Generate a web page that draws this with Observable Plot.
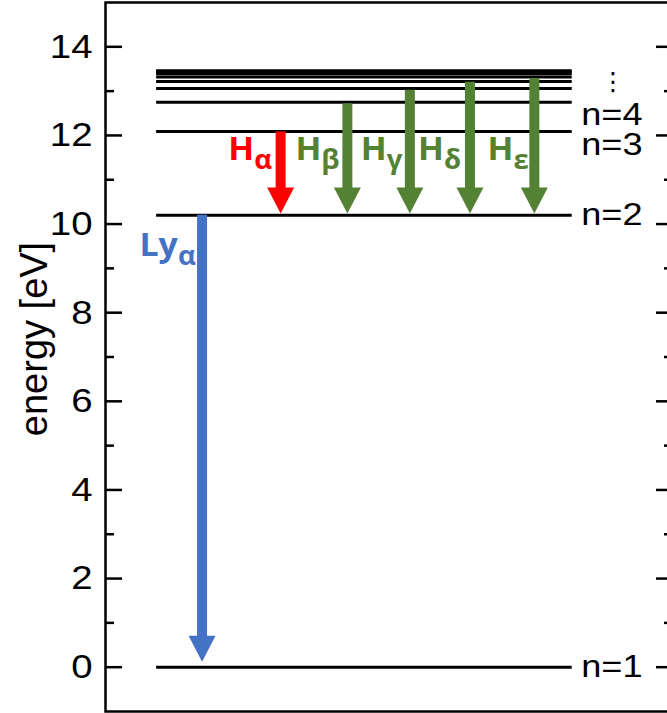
<!DOCTYPE html>
<html><head><meta charset="utf-8">
<script src="https://cdn.jsdelivr.net/npm/d3@7"></script>
<script src="https://cdn.jsdelivr.net/npm/@observablehq/plot@0.6"></script>
<style>html,body{margin:0;padding:0;overflow:hidden;background:#fff}</style>
</head><body><div id="chart"></div>
<script>
// Energy levels of hydrogen (eV)
const levelEnergies = [0, 10.2, 12.09, 12.75, 13.06, 13.22, 13.32, 13.39, 13.43, 13.46];
const levelStart = 1.08;   // x units
const levelEnd = 9.86;
const levelLabels = ["n=1", "n=2", "n=3", "n=4"];
const levelLabelY = [0, 10.2, 11.8, 12.47];
const levelLabelX = 10.05;
const ellipsisText = ["⋮"];
const ellipsisX = 10.72;
const ellipsisY = 13.2;

// Transitions
const lineNames = ["Ly", "H", "H", "H", "H", "H"];
const lineSubs = ["α", "α", "β", "γ", "δ", "ε"];
const upperE = [10.2, 12.08, 12.71, 13.02, 13.2, 13.28];
const lowerE = [0.12, 10.24, 10.24, 10.24, 10.24, 10.24];
const arrowX = [2.04, 3.70, 5.11, 6.43, 7.70, 9.06];
const labelX = [1.53, 3.14, 4.56, 5.94, 7.15, 8.62];
const labelY = [9.29, 11.44, 11.44, 11.44, 11.44, 11.44];
const lineColors = ["#4472c4", "#ff0000", "#548235", "#548235", "#548235", "#548235"];

// Axis
const majorTicks = [0, 2, 4, 6, 8, 10, 12, 14];
const minorTicks = [1, 3, 5, 7, 9, 11, 13];
const yTitle = "energy [eV]";

const transitions = lineNames.map((name, i) => ({
  name, sub: lineSubs[i], upper: upperE[i], lower: lowerE[i],
  x: arrowX[i], lx: labelX[i], ly: labelY[i], color: lineColors[i]
}));
const levelLabelRows = levelLabels.map((t, i) => ({t, y: levelLabelY[i]}));

const arrowHead = {
  draw(ctx) {
    ctx.moveTo(0, 0);
    ctx.lineTo(-13.5, -26);
    ctx.lineTo(13.5, -26);
    ctx.closePath();
  }
};

const W = 667, H = 713, ML = 105, MR = -6;
const innerW = W - ML - MR;

const chart = Plot.plot({
  width: W, height: H,
  marginLeft: ML, marginRight: MR, marginTop: 2, marginBottom: 2,
  x: {domain: [0, 12], axis: null},
  y: {domain: [-1, 15], axis: null},
  color: {type: "identity"},
  style: {fontFamily: "'Liberation Sans', Arial, sans-serif", background: "#fff", color: "#000"},
  marks: [
    // energy levels
    Plot.ruleY(levelEnergies, {y: d => d, x1: () => levelStart, x2: () => levelEnd, stroke: "#000", strokeWidth: 3}),
    // arrow shafts
    Plot.ruleX(transitions, {x: "x", y1: "upper", y2: "lower", stroke: "color", strokeWidth: 10, insetBottom: 20}),
    // arrow heads
    Plot.dot(transitions, {x: "x", y: "lower", symbol: arrowHead, fill: "color"}),
    // transition labels
    Plot.text(transitions, {x: "lx", y: "ly", text: "name", textAnchor: "end", lineAnchor: "bottom",
      fill: "color", fontWeight: "bold", fontSize: 32, fontFamily: "'Open Sans', sans-serif"}),
    Plot.text(transitions, {x: "lx", y: "ly", text: "sub", textAnchor: "start", lineAnchor: "bottom", dy: 9,
      fill: "color", fontWeight: "bold", fontSize: 26, fontFamily: "'Open Sans', sans-serif"}),
    // level labels
    Plot.text(levelLabelRows, {x: () => levelLabelX, y: "y", text: "t", textAnchor: "start", lineAnchor: "middle", fontSize: 32, fill: "#000"}),
    Plot.text(ellipsisText, {x: () => ellipsisX, y: () => ellipsisY, text: d => d, textAnchor: "middle", lineAnchor: "middle", fontSize: 25, fontFamily: "'DejaVu Sans', sans-serif", fill: "#000"}),
    // ticks left (inward)
    Plot.tickY(majorTicks, {y: d => d, stroke: "#000", strokeWidth: 2.5, insetRight: innerW - 17}),
    Plot.tickY(minorTicks, {y: d => d, stroke: "#000", strokeWidth: 2.5, insetRight: innerW - 9}),
    // ticks right (inward)
    Plot.tickY(majorTicks, {y: d => d, stroke: "#000", strokeWidth: 2.5, insetLeft: innerW - 17}),
    Plot.tickY(minorTicks, {y: d => d, stroke: "#000", strokeWidth: 2.5, insetLeft: innerW - 9}),
    // tick labels
    Plot.text(majorTicks, {y: d => d, text: d => String(d), frameAnchor: "left", textAnchor: "end", lineAnchor: "middle", dx: -13, fontSize: 34, fill: "#000"}),
    // y title
    Plot.text([yTitle], {text: d => d, frameAnchor: "left", rotate: -90, dx: -71, dy: -18, textAnchor: "middle", lineAnchor: "middle", fontSize: 38, fill: "#000"}),
    Plot.frame({stroke: "#000", strokeWidth: 2.5})
  ]
});
// slight horizontal widening of glyphs to match the reference's wide lettering
const wideA = new Set([...lineNames, ...lineSubs]);
const wideB = new Set([...levelLabels, ...majorTicks.map(String)]);
chart.querySelectorAll("text").forEach(t => {
  const s = t.textContent;
  const k = wideB.has(s) ? 1.13 : wideA.has(s) ? 1.06 : 0;
  if (!k) return;
  const tr = t.getAttribute("transform") || "";
  if (tr) {
    t.setAttribute("transform", `${tr} scale(${k},1)`);
  } else {
    const x = +t.getAttribute("x") || 0;
    const y = t.getAttribute("y");
    t.setAttribute("transform", `translate(${x},0) scale(${k},1)`);
    t.setAttribute("x", 0);
  }
});
document.getElementById("chart").appendChild(chart);
</script>
</body></html>
